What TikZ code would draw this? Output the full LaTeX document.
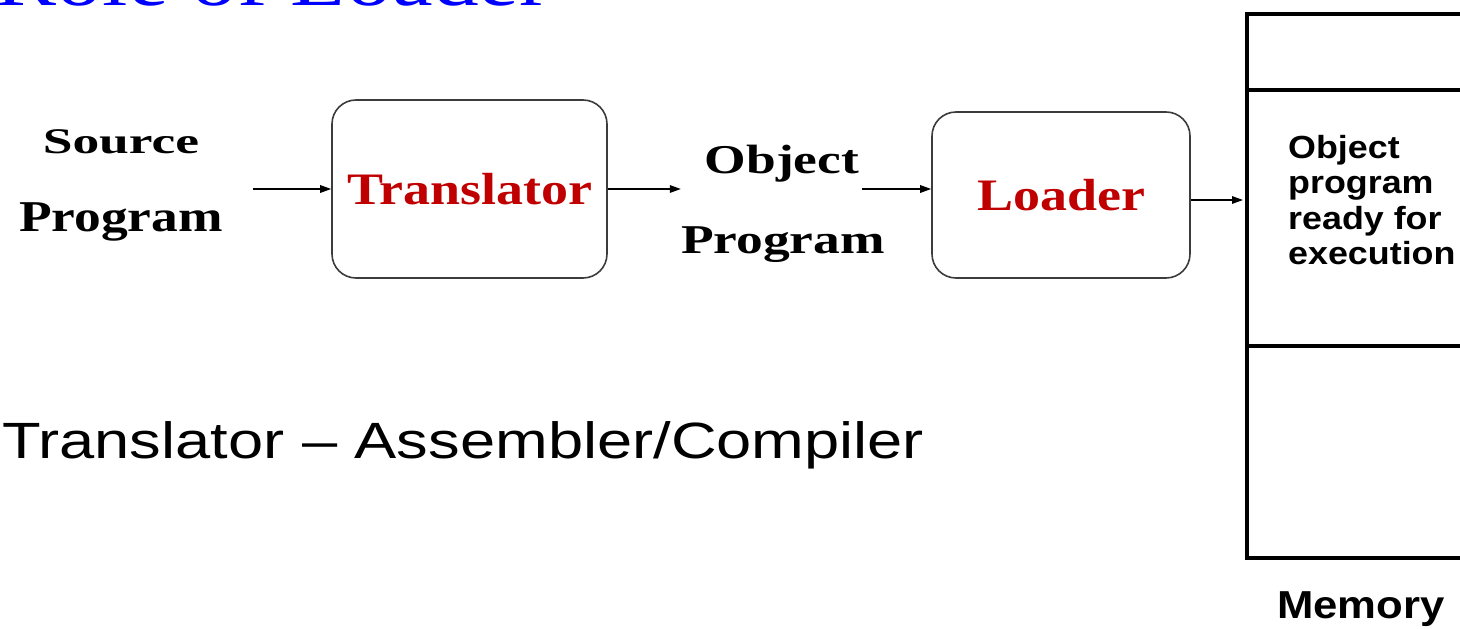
\documentclass[tikz,border=0pt]{standalone}
\usepackage{fontspec}
\usepackage{graphicx}
\usetikzlibrary{arrows.meta,calc}
\newfontfamily\tnr{Liberation Serif}
\newfontfamily\arl{Liberation Sans}
\definecolor{boxred}{RGB}{192,0,0}
\definecolor{ttlblue}{RGB}{0,0,255}
\definecolor{boxline}{RGB}{60,60,60}
\newcommand{\hsc}[3]{\scalebox{#1}[#2]{#3}}
\begin{document}
\begin{tikzpicture}[x=1pt,y=-1pt,
  proc/.style={draw=boxline, line width=1.6pt, rounded corners=24pt, inner sep=0pt,
    font=\tnr\bfseries\fontsize{45}{50}\selectfont, text=boxred},
  lbl/.style={inner sep=0pt, anchor=base, font=\tnr\bfseries\fontsize{44}{50}\selectfont},
  memtext/.style={inner sep=0pt, anchor=base west, font=\arl\bfseries\fontsize{32}{36}\selectfont},
  arr/.style={line width=1.5pt, -{Triangle[length=11pt,width=7.5pt]}},
  membox/.style={line width=4pt},
]
\useasboundingbox (0,0) rectangle (1460,629);
\clip (0,0) rectangle (1460,629);

% title (cut off at the top)
\node[inner sep=0pt, anchor=base east, text=ttlblue, font=\tnr\fontsize{75}{80}\selectfont] (title) at (550,5.5) {\hsc{1.22}{1}{Role of Loader}};

% source program
\node[lbl] (srcA) at (121,153) {\hsc{1.215}{0.82}{Source}};
\node[lbl] (srcB) at (121,231) {\hsc{1.215}{1}{Program}};

% translator
\node[proc, minimum width=275pt, minimum height=178pt] (trans) at (469.5,189) {\raisebox{-4pt}{\hsc{1.2}{1}{Translator}}};

% object program
\node[lbl] (objA) at (782,173) {\hsc{1.215}{0.93}{Object}};
\node[lbl] (objB) at (783,253) {\hsc{1.215}{0.93}{Program}};

% loader
\node[proc, minimum width=258pt, minimum height=166pt] (load) at (1061,195) {\raisebox{-3pt}{\hsc{1.2}{1}{Loader}}};

% memory
\node[draw, membox, minimum width=260pt, minimum height=544pt, anchor=north west, inner sep=0pt] (mem) at (1245,12) {};
\coordinate (h1) at (0,90);
\coordinate (h2) at (0,346);
\draw[membox] (mem.west |- h1) -- (mem.east |- h1);
\draw[membox] (mem.west |- h2) -- (mem.east |- h2);

\node[memtext] (mt1) at (1288,158) {\hsc{1.12}{1}{Object}};
\node[memtext] (mt2) at (1288,193.5) {\hsc{1.12}{1}{program}};
\node[memtext] (mt3) at (1288,229) {\hsc{1.12}{1}{ready for}};
\node[memtext] (mt4) at (1288,264.5) {\hsc{1.12}{1}{execution}};

\node[inner sep=0pt, anchor=base, font=\arl\bfseries\fontsize{39}{42}\selectfont] (memlbl) at (1361,618) {\hsc{1.12}{1}{Memory}};

% note
\node[inner sep=0pt, anchor=base west, font=\arl\fontsize{51}{55}\selectfont] (note) at (2,458) {\hsc{1.24}{1}{Translator – Assembler/Compiler}};

% connectors
\coordinate (s1) at ($(srcB.east |- trans.west)+(30,0)$);
\draw[arr] (s1) -- (trans.west);
\draw[arr] (trans.east) -- (trans.east -| objB.west);
\coordinate (o1) at ($(objA.east |- trans.east)+(3,0)$);
\draw[arr] (o1) -- (o1 -| load.west);
\coordinate (l1) at ($(load.east)+(0,5)$);
\draw[arr, shorten >=2pt] (l1) -- (l1 -| mem.west);
\end{tikzpicture}
\end{document}
